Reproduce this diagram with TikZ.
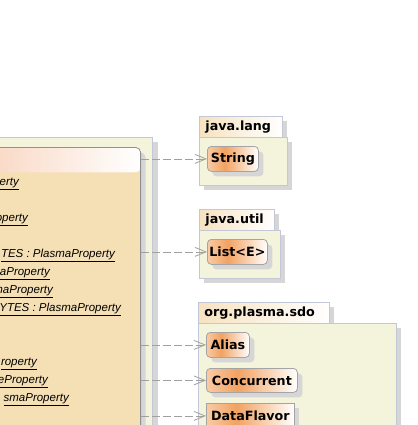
\documentclass[tikz,border=0pt]{standalone}
\usepackage{fontspec}
\setmainfont{Liberation Sans}
\newfontfamily\lblfont{DejaVu Sans}
\usetikzlibrary{arrows.meta,shadows}
\definecolor{pkgfill}{HTML}{F4F4DC}
\definecolor{pkgline}{HTML}{C2C8D8}
\definecolor{shadowgray}{HTML}{D6D6D6}
\definecolor{clsline}{HTML}{A4A4A4}
\definecolor{bigline}{HTML}{909090}
\definecolor{wheatbody}{HTML}{F5DFB5}
\definecolor{hdrleft}{HTML}{F9D8C4}
\definecolor{tableft}{HTML}{F7E2C0}
\definecolor{connline}{HTML}{A0A0A0}
\definecolor{orlight}{HTML}{F9CBA6}
\definecolor{ordark}{HTML}{F2A262}
\pgfdeclarehorizontalshading{clsshade}{100bp}{color(0bp)=(orlight); color(25bp)=(orlight); color(42bp)=(ordark); color(75bp)=(white); color(100bp)=(white)}
\begin{document}
\begin{tikzpicture}[x=1pt,y=-1pt,
  shd/.style={drop shadow={shadow xshift=5pt,shadow yshift=-5pt,fill=shadowgray,opacity=1}},
  pkgbody/.style={draw=pkgline,fill=pkgfill,shd,anchor=north west,inner sep=0pt,line width=0.8pt},
  pkgtab/.style={draw=pkgline,left color=tableft,right color=white,shd,anchor=north west,
     inner xsep=6pt,inner ysep=0pt,align=left,font=\lblfont\bfseries\fontsize{12.7}{14}\selectfont,line width=0.8pt},
  clsbox/.style={draw=clsline,shading=clsshade,rounded corners=4pt,shd,anchor=north west,
     inner sep=0pt,font=\lblfont\bfseries\fontsize{12.7}{14}\selectfont,line width=0.8pt},
  attr/.style={anchor=base east,inner sep=0pt,font=\itshape\fontsize{11.5}{13}\selectfont},
  dep/.style={draw=connline,line width=0.8pt,dash pattern=on 8pt off 3pt,
     -{Straight Barb[length=11pt,width=9pt]}}
]
\useasboundingbox (0,0) rectangle (417,425);
\clip (0,0) rectangle (417,425);

% left package and class
\node[pkgbody,minimum width=163pt,minimum height=300pt,anchor=north east] (lpkg) at (153,137) {};
\node[draw=bigline,fill=wheatbody,rounded corners=5pt,minimum width=151pt,minimum height=300pt,
  anchor=north east,inner sep=0pt,shd,line width=0.8pt,
  path picture={\fill[left color=hdrleft,right color=white]
     (path picture bounding box.north west) rectangle ([yshift=-25pt]path picture bounding box.north east);}]
  (cls) at (141,147) {};

\node[attr] (a1) at (19,185) {\underline{erty}};
\node[attr] (a2) at (28,221) {\underline{operty}};
\node[attr] (a3) at (115,257) {\underline{TES : PlasmaProperty}};
\node[attr] (a4) at (50,275) {\underline{aProperty}};
\node[attr] (a5) at (53,293) {\underline{maProperty}};
\node[attr] (a6) at (121,311) {\underline{YTES : PlasmaProperty}};
\node[attr] (a7) at (37,365) {\underline{roperty}};
\node[attr] (a8) at (48,383) {\underline{eProperty}};
\node[attr] (a9) at (69,401) {\underline{smaProperty}};

% java.lang
\node[pkgtab,text width=71pt,minimum height=21pt] (jltab) at (199,116) {java.lang};
\node[pkgbody,minimum width=88pt,minimum height=48pt] (jlbody) at (199,137) {};
\node[clsbox,minimum width=51pt,minimum height=25pt] (str) at (207,146) {String};

% java.util
\node[pkgtab,text width=63pt,minimum height=21pt] (jutab) at (199,209) {java.util};
\node[pkgbody,minimum width=81pt,minimum height=48pt] (jubody) at (199,230) {};
\node[clsbox,minimum width=60pt,minimum height=25pt] (lst) at (207,239) {List<E>};

% org.plasma.sdo
\node[pkgtab,text width=119pt,minimum height=21pt] (sdotab) at (198,302) {org.plasma.sdo};
\node[pkgbody,minimum width=198pt,minimum height=130pt] (sdobody) at (198,323) {};
\node[clsbox,minimum width=43pt,minimum height=25pt] (alias) at (206,332) {Alias};
\node[clsbox,minimum width=91pt,minimum height=24pt] (conc) at (206,368) {Concurrent};
\node[clsbox,sharp corners,minimum width=88pt,minimum height=25pt] (dfl) at (206,403) {DataFlavor};

% dependencies
\draw[dep] (cls.east |- str.west) -- (str.west);
\draw[dep] (cls.east |- lst.west) -- (lst.west);
\draw[dep] (cls.east |- alias.west) -- (alias.west);
\draw[dep] (cls.east |- conc.west) -- (conc.west);
\draw[dep] (cls.east |- dfl.west) -- (dfl.west);
\end{tikzpicture}
\end{document}
